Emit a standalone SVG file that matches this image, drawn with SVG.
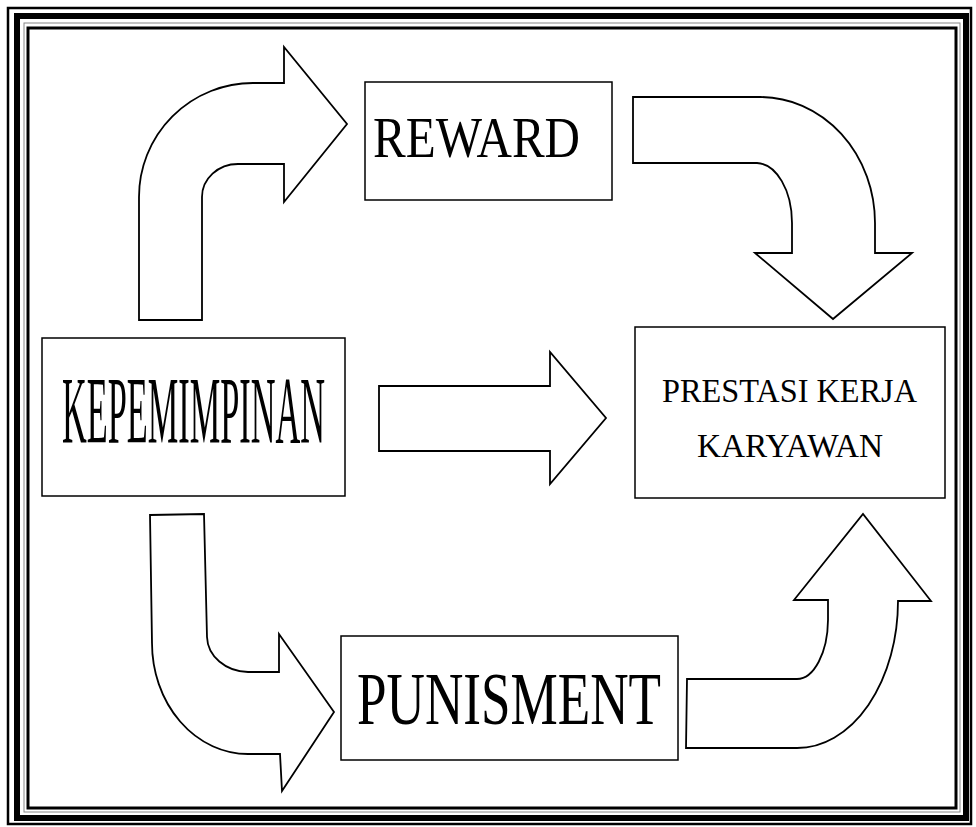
<svg xmlns="http://www.w3.org/2000/svg" width="976" height="827" viewBox="0 0 976 827">
<style>
.box{fill:#fff;stroke:#000;stroke-width:1.5}
.arr{fill:#fff;stroke:#000;stroke-width:1.8;stroke-linejoin:miter}
.t{font-family:"Liberation Serif","Times New Roman",serif;fill:#000}
</style>
<rect width="976" height="827" fill="#fff"/>
<g id="frame" fill="none" stroke="#000">
<rect x="8" y="8" width="963" height="816" stroke-width="2.5"/>
<rect x="17" y="16" width="949" height="802" stroke-width="6"/>
<rect x="24" y="23" width="936" height="789" stroke-width="1" stroke="#888"/>
<rect x="28" y="28" width="928" height="780" stroke-width="3"/>
</g>
<g id="connectors">
<path class="arr" d="M139,320 L139,197 A114,114 0 0 1 253,83 L284,83 L284,47 L347,124 L284,202 L284,164 L238,164 A36,33 0 0 0 202,197 L202,320 Z"/>
<path class="arr" d="M633,97 L760,97 A115,126 0 0 1 875,223 L875,253 L912,253 L833,319 L755,253 L792,253 L792,223 A36,60 0 0 0 757,163 L633,163 Z"/>
<path class="arr" d="M150,515 L204,514 L207,637 A42,36 0 0 0 248,672 L279,672 L279,634 L334,712 L282,791 L280,754 L248,754 A96,111 0 0 1 152,643 Z"/>
<path class="arr" d="M686,748 L687,679 L797,679 A31,60 0 0 0 828,620 L828,600 L794,600 L863,514 L931,601 L898,601 A101,147 0 0 1 797,748 Z"/>
<path class="arr" d="M379,386 L550,386 L550,352 L606,418 L550,484 L550,451 L379,451 Z"/>
</g>
<g id="reward">
<rect class="box" x="365" y="82" width="247" height="118"/>
<text class="t" x="373" y="157" font-size="58" textLength="207" lengthAdjust="spacingAndGlyphs">REWARD</text>
</g>
<g id="kepemimpinan">
<rect class="box" x="42" y="338" width="303" height="158"/>
<text class="t" x="62" y="443" font-size="96" textLength="263" lengthAdjust="spacingAndGlyphs">KEPEMIMPINAN</text>
</g>
<g id="prestasi">
<rect class="box" x="635" y="327" width="310" height="171"/>
<text class="t" font-size="34"><tspan x="662" y="402" textLength="255" lengthAdjust="spacingAndGlyphs">PRESTASI KERJA</tspan><tspan x="697" y="457" textLength="186" lengthAdjust="spacingAndGlyphs">KARYAWAN</tspan></text>
</g>
<g id="punisment">
<rect class="box" x="341" y="636" width="337" height="124"/>
<text class="t" x="357" y="724" font-size="74" textLength="304" lengthAdjust="spacingAndGlyphs">PUNISMENT</text>
</g>
</svg>
